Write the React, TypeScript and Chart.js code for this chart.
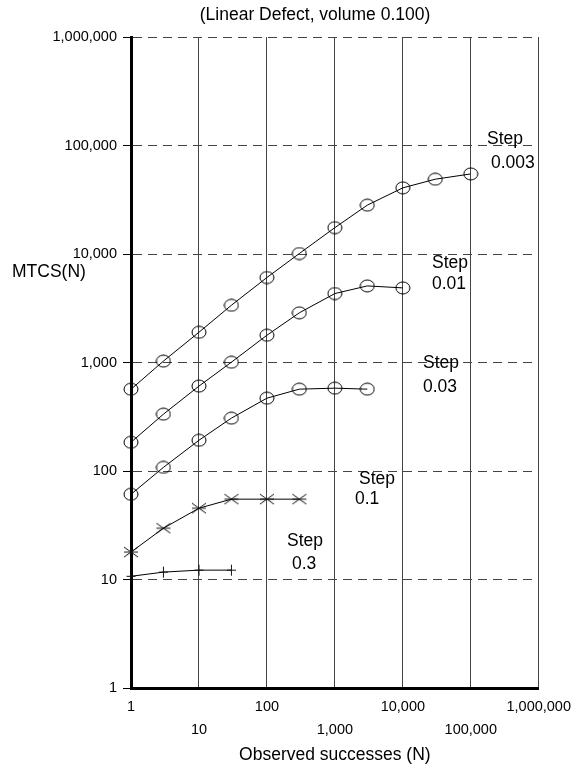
import { useEffect, useRef } from "react";
import { Chart, registerables } from "chart.js";

Chart.register(...registerables);

// observed successes (N) at which each run was sampled
const successes = [1, 3, 10, 30, 100, 300, 1000, 3000, 10000, 30000, 100000];

// MTCS(N) for each step size
const step0003 = [567, 1030, 1900, 3370, 6070, 10100, 17500, 28200, 40700, 48900, 54700];
const step001 = [184, 334, 606, 1006, 1784, 2870, 4320, 5080, 4870];
const step003 = [61, 108, 192, 307, 469, 568, 580, 568];
const step01 = [17.9, 29.7, 45.4, 55, 55, 55];
const step03 = [10.7, 11.7, 12.2, 12.2];

const stepNames = ["0.003", "0.01", "0.03", "0.1", "0.3"];
const decadeTicks = [1, 10, 100, 1000, 10000, 100000, 1000000];

const FONT = '"Liberation Sans", Arial, Helvetica, sans-serif';

// where the "Step / value" captions sit on the canvas: [stepX, stepY, valueX, valueY]
const captionPos = [
  [487, 139, 491, 163],
  [432, 263, 432, 284],
  [423, 363, 423, 387],
  [359, 479, 355, 499],
  [287, 541, 292, 564],
];

const fmt = (v: number) => Number(v).toLocaleString("en-US");

function makeMarker(kind: "ellipse" | "star" | "plus") {
  const c = document.createElement("canvas");
  const ctx = c.getContext("2d")!;
  if (kind === "ellipse") {
    c.width = 16;
    c.height = 14;
    ctx.strokeStyle = "#000";
    ctx.lineWidth = 1;
    ctx.beginPath();
    ctx.ellipse(8, 7, 7, 6, 0, 0, Math.PI * 2);
    ctx.stroke();
  } else if (kind === "star") {
    c.width = 16;
    c.height = 12;
    ctx.strokeStyle = "#111";
    ctx.lineWidth = 1;
    ctx.beginPath();
    ctx.moveTo(1, 1);
    ctx.lineTo(15, 11);
    ctx.moveTo(1, 11);
    ctx.lineTo(15, 1);
    ctx.moveTo(1, 6);
    ctx.lineTo(15, 6);
    ctx.stroke();
  } else {
    c.width = 11;
    c.height = 13;
    ctx.strokeStyle = "#111";
    ctx.lineWidth = 1;
    ctx.beginPath();
    ctx.moveTo(1, 6.5);
    ctx.lineTo(10, 6.5);
    ctx.moveTo(5.5, 1);
    ctx.lineTo(5.5, 12);
    ctx.stroke();
  }
  return c;
}

const textPlugin = {
  id: "texts",
  afterDraw(chart: any) {
    const { ctx, chartArea } = chart;
    ctx.save();
    ctx.fillStyle = "#000";
    ctx.font = `17.5px ${FONT}`;
    ctx.textBaseline = "middle";
    ctx.textAlign = "center";
    ctx.fillText("(Linear Defect, volume 0.100)", 315, 15);
    ctx.fillText("Observed successes (N)", (chartArea.left + chartArea.right) / 2, 755);
    ctx.textAlign = "left";
    ctx.fillText("MTCS(N)", 12, 272);
    captionPos.forEach((p, i) => {
      ctx.fillText("Step", p[0], p[1]);
      ctx.fillText(stepNames[i], p[2], p[3]);
    });
    ctx.restore();
  },
};

export default function App() {
  const canvasRef = useRef<HTMLCanvasElement | null>(null);
  const chartRef = useRef<Chart | null>(null);

  useEffect(() => {
    if (!canvasRef.current) return;
    if (chartRef.current) chartRef.current.destroy();

    const ellipse = makeMarker("ellipse");
    const star = makeMarker("star");
    const plus = makeMarker("plus");

    const series = [
      { name: "Step 0.003", values: step0003, marker: ellipse },
      { name: "Step 0.01", values: step001, marker: ellipse },
      { name: "Step 0.03", values: step003, marker: ellipse },
      { name: "Step 0.1", values: step01, marker: star },
      { name: "Step 0.3", values: step03, marker: plus },
    ];

    chartRef.current = new Chart(canvasRef.current, {
      type: "line",
      data: {
        datasets: series.map((s) => ({
          label: s.name,
          data: s.values.map((v, i) => ({ x: successes[i], y: v })),
          borderColor: "#000",
          borderWidth: 1,
          tension: 0,
          pointStyle: s.marker as any,
          pointRadius: 6,
          clip: false as any,
        })),
      },
      options: {
        animation: false,
        responsive: true,
        maintainAspectRatio: false,
        events: [],
        layout: { padding: { top: 37, right: 39, left: 0, bottom: 0 } },
        plugins: {
          legend: { display: false },
          title: { display: false },
          tooltip: { enabled: false },
        },
        scales: {
          x: {
            type: "logarithmic",
            min: 1,
            max: 1000000,
            afterBuildTicks: (axis: any) => {
              axis.ticks = decadeTicks.map((v) => ({ value: v }));
            },
            afterFit: (axis: any) => {
              axis.height = 80;
            },
            grid: { color: "#444", lineWidth: 1, drawTicks: false },
            border: { display: true, color: "#000", width: 3 },
            ticks: {
              autoSkip: false,
              maxRotation: 0,
              padding: 8,
              color: "#000",
              font: { family: FONT, size: 14.5, lineHeight: 1.586 },
              callback: (v: any, i: number) => (i % 2 === 0 ? fmt(v) : ["", fmt(v)]),
            },
          },
          y: {
            type: "logarithmic",
            min: 1,
            max: 1000000,
            afterBuildTicks: (axis: any) => {
              axis.ticks = decadeTicks.map((v) => ({ value: v }));
            },
            afterFit: (axis: any) => {
              axis.width = 131;
            },
            grid: { color: "#444", lineWidth: 1, tickLength: 8, tickColor: "#000" },
            border: { display: true, color: "#000", width: 3, dash: [9, 6] },
            ticks: {
              autoSkip: false,
              padding: 6,
              color: "#000",
              font: { family: FONT, size: 14.5 },
              callback: (v: any) => fmt(v),
            },
          },
        },
      },
      plugins: [textPlugin],
    });

    return () => {
      if (chartRef.current) {
        chartRef.current.destroy();
        chartRef.current = null;
      }
    };
  }, []);

  return (
    <div style={{ position: "absolute", left: 0, top: 0, width: 579, height: 768, background: "#fff" }}>
      <canvas ref={canvasRef}></canvas>
    </div>
  );
}
